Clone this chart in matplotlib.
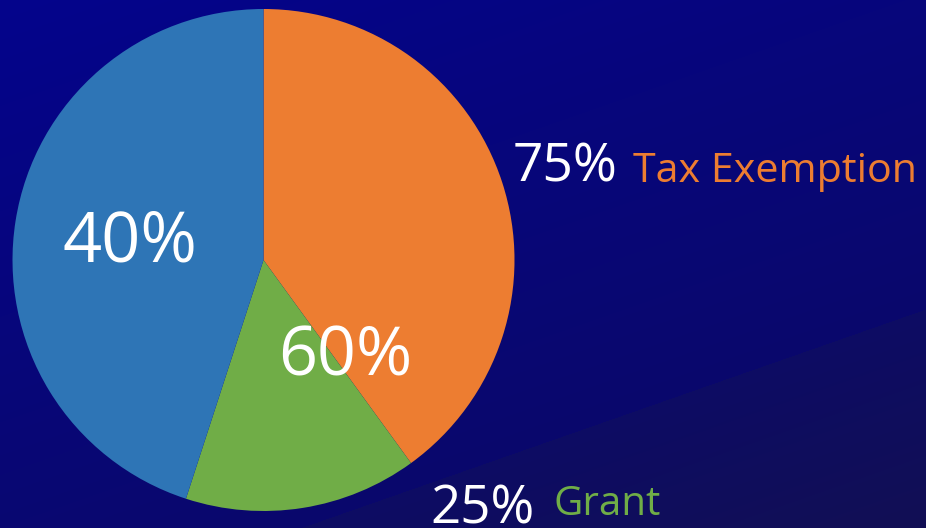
import numpy as np
import matplotlib
matplotlib.use("Agg")
import matplotlib.pyplot as plt

# Data
categories = ["Tax Exemption", "Grant", "Other"]
shares = [40, 15, 45]          # slice sizes
colors = ["#ED7D31", "#70AD47", "#2E75B6"]
inner_labels = ["40%", "60%"]
side_pcts = ["75%", "25%"]
side_names = ["Tax Exemption", "Grant"]

W, H = 926, 528
fig = plt.figure(figsize=(W / 100, H / 100), dpi=100)

# Background gradient with diagonal bands
bg = fig.add_axes([0, 0, 1, 1])
bg.set_axis_off()
yy, xx = np.mgrid[0:H, 0:W].astype(float)
s = yy + 0.35 * xx
c_top = np.array([4, 4, 140])
c_mid = np.array([10, 8, 108])
c_band = np.array([13, 12, 100])
c_end = np.array([18, 15, 84])
split = 633.0
smax = H + 0.35 * W
t1 = np.clip(s / split, 0, 1)[..., None]
t2 = np.clip((s - split) / (smax - split), 0, 1)[..., None]
lower = c_top * (1 - t1) + c_mid * t1
upper = c_band * (1 - t2) + c_end * t2
img = np.where((s > split)[..., None], upper, lower) / 255.0
img = np.clip(img, 0, 1)
bg.imshow(img, extent=[0, W, H, 0], aspect="auto", interpolation="bilinear")
bg.set_xlim(0, W)
bg.set_ylim(H, 0)

# Pie
cx, cy, r = 263.5, 260, 251
ax = fig.add_axes([(cx - r) / W, (H - cy - r) / H, 2 * r / W, 2 * r / H])
ax.pie(shares, colors=colors, startangle=90, counterclock=False,
       radius=1, wedgeprops=dict(linewidth=0))
ax.set_xlim(-1, 1)
ax.set_ylim(-1, 1)
ax.set_aspect("auto")
ax.set_axis_off()

font = "Open Sans"
renderer = fig.canvas.get_renderer()

def ftext(x, y, s, width, color, base=40):
    t = fig.text(x / W, 1 - y / H, s, fontsize=base, color=color,
                 family=font, ha="left", va="baseline")
    w = t.get_window_extent(renderer).width
    t.set_fontsize(base * width / w)
    return t

ftext(62, 262, inner_labels[0], 135, "white")
ftext(278, 375, inner_labels[1], 134, "white")
ftext(513, 182, side_pcts[0], 105, "white")
ftext(633, 182, side_names[0], 284, colors[0])
ftext(430, 523, side_pcts[1], 104, "white")
ftext(553, 515, side_names[1], 107, colors[1])

fig.savefig("out.png", dpi=100)
